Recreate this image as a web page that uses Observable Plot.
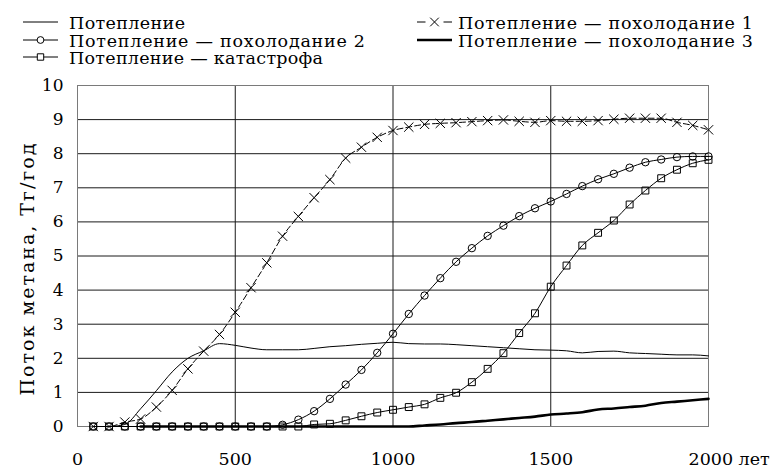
<!DOCTYPE html>
<html><head><meta charset="utf-8">
<script src="https://cdn.jsdelivr.net/npm/d3@7"></script>
<script src="https://cdn.jsdelivr.net/npm/@observablehq/plot@0.6"></script>
<style>
body{margin:0;background:#fff;}
#wrap{width:775px;font-family:"DejaVu Serif","Liberation Serif",serif;}
#wrap svg{display:block;}
</style></head><body><div id="wrap"></div>
<script>
// ---- data ----
const years = [50,100,150,200,250,300,350,400,450,500,550,600,650,700,750,800,850,900,950,1000,
  1050,1100,1150,1200,1250,1300,1350,1400,1450,1500,1550,1600,1650,1700,1750,1800,1850,1900,1950,2000];
const warming = [0,0,0.06,0.52,1.05,1.6,2.0,2.22,2.43,2.38,2.3,2.25,2.25,2.25,2.29,2.34,2.37,2.41,2.44,2.47,
  2.43,2.42,2.42,2.4,2.37,2.34,2.31,2.28,2.25,2.24,2.22,2.16,2.2,2.21,2.16,2.14,2.12,2.1,2.1,2.07];
const cooling1 = [0,0,0.13,0.22,0.57,1.06,1.69,2.21,2.7,3.35,4.07,4.8,5.58,6.16,6.71,7.24,7.87,8.19,8.48,8.68,
  8.78,8.86,8.89,8.91,8.94,8.97,8.99,8.95,8.92,8.97,8.95,8.95,8.97,9.01,9.04,9.04,9.04,8.92,8.83,8.7];
const cooling2 = [0,0,0,0,0,0,0,0,0,0,0,0,0.05,0.2,0.45,0.81,1.23,1.66,2.16,2.72,
  3.3,3.84,4.35,4.83,5.23,5.59,5.89,6.17,6.4,6.6,6.82,7.05,7.25,7.41,7.59,7.75,7.83,7.9,7.92,7.92];
const catastrophe = [0,0,0,0,0,0,0,0,0,0,0,0,0,0,0.06,0.08,0.18,0.3,0.41,0.49,
  0.57,0.65,0.84,0.99,1.3,1.69,2.15,2.74,3.32,4.1,4.72,5.31,5.68,6.04,6.51,6.92,7.28,7.53,7.72,7.82];
const cooling3 = [null,null,null,0,0,0,0,0,0,0,0,0,0,0,0,0,0,0,0,0,
  0,0.03,0.06,0.1,0.13,0.17,0.21,0.25,0.29,0.35,0.38,0.42,0.5,0.53,0.57,0.61,0.69,0.73,0.77,0.81];
const seriesNames = ["Потепление", "Потепление — похолодание 1", "Потепление — похолодание 2",
  "Потепление — катастрофа", "Потепление — похолодание 3"];
const yTicks = [0,1,2,3,4,5,6,7,8,9,10];
const xTicks = [0,500,1000,1500,2000];
const xUnit = "лет";
const yLabel = "Поток метана, Тг/год";

const rows = vals => years.map((t,i)=>({t, v: vals[i]}));
const FONT = "'DejaVu Serif','Liberation Serif',serif";

// ---- legend ----
const leg = d3.create("svg").attr("width",775).attr("height",78)
  .style("font-family",FONT).attr("font-size",17.5).attr("fill","#000");
const legItems = [
  {name:seriesNames[0], x0:23, x1:58, tx:69, base:28.5, len:116, sym:null, w:1},
  {name:seriesNames[2], x0:23, x1:58, tx:69, base:46.5, len:296, sym:"circle", w:1},
  {name:seriesNames[3], x0:23, x1:58, tx:69, base:63.5, len:254, sym:"square", w:1},
  {name:seriesNames[1], x0:417, x1:452, tx:458, base:28.5, len:295, sym:"times", w:1, gap:true},
  {name:seriesNames[4], x0:417, x1:452, tx:458, base:46.5, len:295, sym:null, w:2.6}
];
for (const it of legItems) {
  const cy = it.base - 6.5, cx = (it.x0+it.x1)/2;
  if (it.gap) {
    leg.append("line").attr("x1",it.x0).attr("x2",cx-9).attr("y1",cy).attr("y2",cy).attr("stroke","#000");
    leg.append("line").attr("x1",cx+9).attr("x2",it.x1).attr("y1",cy).attr("y2",cy).attr("stroke","#000");
  } else {
    leg.append("line").attr("x1",it.x0).attr("x2",it.x1).attr("y1",cy).attr("y2",cy)
      .attr("stroke","#000").attr("stroke-width",it.w);
  }
  if (it.sym) {
    const sy = {circle:d3.symbolCircle, square:d3.symbolSquare, times:d3.symbolTimes}[it.sym];
    const sz = {circle:Math.PI*3.4*3.4, square:Math.PI*3.6*3.6, times:Math.PI*4*4}[it.sym];
    leg.append("path").attr("d",d3.symbol(sy,sz)()).attr("transform",`translate(${cx},${cy})`)
      .attr("fill","#fff").attr("stroke","#000");
  }
  leg.append("text").attr("x",it.tx).attr("y",it.base)
    .attr("textLength",it.len).attr("lengthAdjust","spacing").text(it.name);
}
document.getElementById("wrap").appendChild(leg.node());

// ---- chart ----
const chart = Plot.plot({
  width:775, height:392, marginTop:7, marginBottom:44, marginLeft:77, marginRight:67,
  style:{fontFamily:FONT, fontSize:"17px", color:"#000", background:"#fff", overflow:"visible"},
  x:{domain:[0,2000]},
  y:{domain:[0,10]},
  marks:[
    Plot.ruleY(yTicks.filter(d=>d>0 && d<10), {stroke:"#1a1a1a", strokeWidth:1}),
    Plot.ruleX(xTicks.filter(d=>d>0 && d<2000), {stroke:"#1a1a1a", strokeWidth:1}),
    Plot.frame({stroke:"#7a7a7a"}),
    Plot.axisY(yTicks, {tickSize:0, tickPadding:14, label:null, fontSize:17, tickFormat:d=>String(d)}),
    Plot.axisX(xTicks.slice(0,-1), {tickSize:0, tickPadding:26, label:null, fontSize:17.5, tickFormat:d=>String(d)}),
    Plot.axisX(xTicks.slice(-1), {tickSize:0, tickPadding:26, label:null, fontSize:17.5,
      tickFormat:d=>`${d} ${xUnit}`, textAnchor:"start", dx:-20}),
    Plot.text([yLabel], {text:d=>d, frameAnchor:"left", textAnchor:"middle", rotate:-90, dx:-50, dy:13.5, fontSize:19}),
    Plot.line(rows(warming), {x:"t", y:"v", stroke:"#000", strokeWidth:1, curve:"monotone-x"}),
    Plot.line(rows(cooling3), {x:"t", y:"v", stroke:"#000", strokeWidth:2.6, curve:"monotone-x"}),
    Plot.line(rows(catastrophe), {x:"t", y:"v", stroke:"#000", strokeWidth:1, curve:"monotone-x"}),
    Plot.line(rows(cooling2), {x:"t", y:"v", stroke:"#000", strokeWidth:1, curve:"monotone-x"}),
    Plot.line(rows(cooling1), {x:"t", y:"v", stroke:"#000", strokeWidth:1, strokeDasharray:"6,3", curve:"monotone-x"}),
    Plot.dot(rows(catastrophe), {x:"t", y:"v", symbol:"square", r:3.9, fill:"none", stroke:"#000", strokeWidth:1}),
    Plot.dot(rows(cooling2), {x:"t", y:"v", symbol:"circle", r:3.7, fill:"none", stroke:"#000", strokeWidth:1}),
    Plot.dot(rows(cooling1), {x:"t", y:"v", symbol:"times", r:4.3, stroke:"#000", strokeWidth:1})
  ]
});
document.getElementById("wrap").appendChild(chart);
// stretch the axis title to the reference length
d3.select(chart).selectAll("text").filter(function(){ return this.textContent === yLabel; })
  .attr("textLength", 252).attr("lengthAdjust", "spacing");
</script></body></html>
